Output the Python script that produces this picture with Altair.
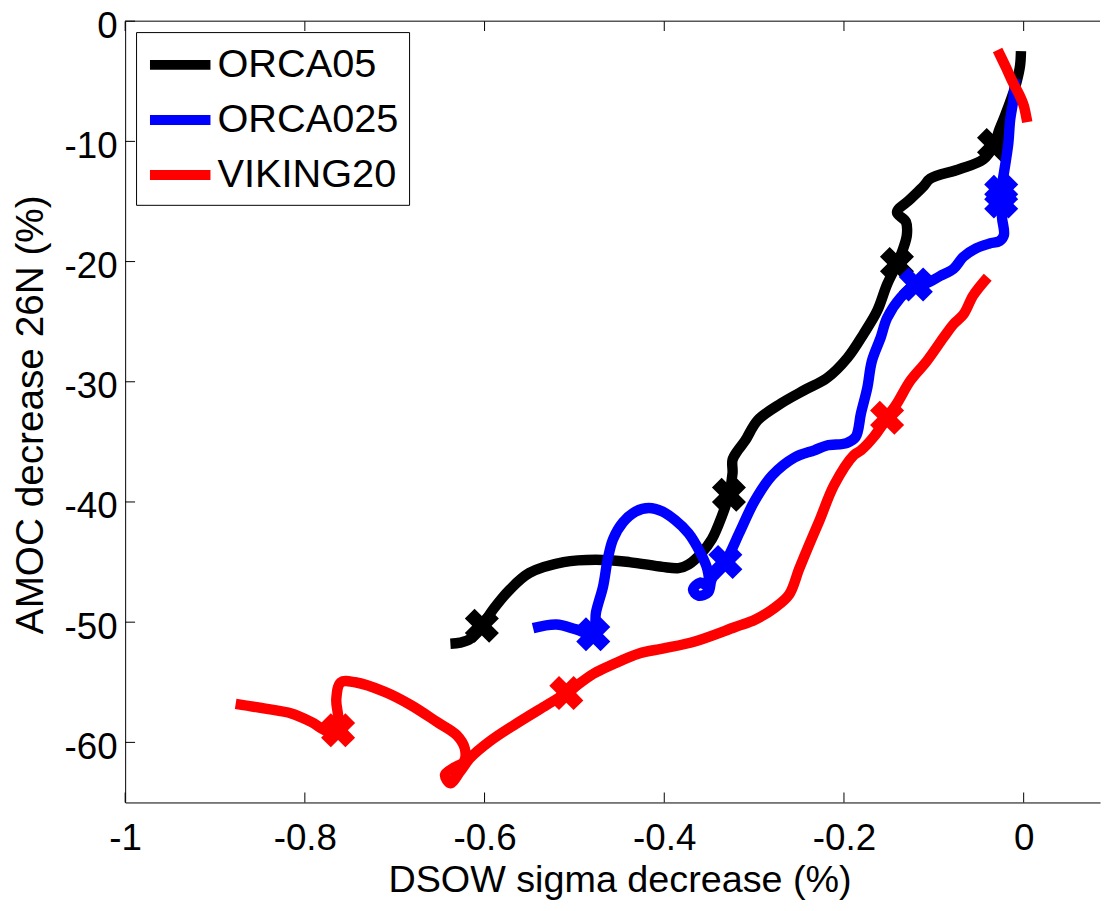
import altair as alt
import pandas as pd

FONT = "Liberation Sans"

series_names = ["ORCA05", "ORCA025", "VIKING20"]
series_colors = ["#000000", "#0000ff", "#ff0000"]

# ORCA05 (black)
orca05_x = [-0.003, -0.004, -0.008, -0.014, -0.021, -0.027, -0.033, -0.045, -0.071, -0.104,
            -0.111, -0.126, -0.141, -0.131, -0.130, -0.134, -0.141, -0.152, -0.163, -0.178,
            -0.196, -0.219, -0.244, -0.270, -0.296, -0.310, -0.318, -0.324, -0.324, -0.328,
            -0.336, -0.347, -0.358, -0.373, -0.384, -0.402, -0.439, -0.476, -0.512, -0.550,
            -0.572, -0.590, -0.603, -0.616, -0.627, -0.638]
orca05_y = [-2.5, -3.7, -5.1, -6.5, -7.9, -9.0, -10.3, -11.5, -12.3, -13.1,
            -13.7, -14.8, -15.9, -16.7, -17.8, -18.9, -20.2, -21.9, -24.1, -26.0,
            -28.0, -29.7, -30.7, -31.8, -33.2, -34.9, -35.7, -36.5, -37.6, -39.4,
            -41.2, -43.1, -44.2, -45.2, -45.5, -45.4, -45.0, -44.8, -45.0, -45.9,
            -47.3, -48.9, -50.3, -51.4, -51.7, -51.8]
orca05_mx = [-0.033, -0.141, -0.328, -0.603]
orca05_my = [-10.3, -20.2, -39.4, -50.3]

# ORCA025 (blue)
orca025_x = [-0.009, -0.010, -0.012, -0.015, -0.017, -0.020, -0.023, -0.025, -0.025, -0.024,
             -0.022, -0.027, -0.038, -0.053, -0.067, -0.078, -0.093, -0.108, -0.120, -0.137,
             -0.152, -0.159, -0.169, -0.174, -0.181, -0.187, -0.197, -0.219, -0.233, -0.255,
             -0.280, -0.300, -0.316, -0.332, -0.347, -0.351, -0.362, -0.368, -0.360, -0.351,
             -0.352, -0.360, -0.373, -0.388, -0.402, -0.417, -0.432, -0.446, -0.457, -0.463,
             -0.468, -0.476, -0.479, -0.498, -0.520, -0.546]
orca025_y = [-4.8, -5.4, -6.8, -8.2, -10.1, -11.7, -13.1, -14.2, -15.0, -16.4,
             -17.8, -18.3, -18.5, -18.9, -19.6, -20.6, -21.2, -21.8, -21.9, -23.0,
             -24.7, -26.3, -28.3, -30.5, -32.6, -34.6, -35.1, -35.3, -35.7, -36.3,
             -37.8, -40.0, -42.5, -45.0, -46.4, -47.5, -47.8, -47.3, -46.7, -47.0,
             -45.6, -44.2, -42.6, -41.5, -40.8, -40.5, -40.8, -41.7, -43.1, -44.8,
             -47.0, -49.2, -51.0, -50.6, -50.2, -50.5]
orca025_mx = [-0.025, -0.025, -0.120, -0.332, -0.479]
orca025_my = [-14.2, -15.0, -21.9, -45.0, -51.0]

# VIKING20 (red): short early segment, then the main curve
viking_top_x = [-0.029, -0.020, -0.012, -0.005, 0.000, 0.003, 0.004]
viking_top_y = [-2.4, -3.8, -5.1, -6.1, -7.0, -8.0, -8.4]
viking_x = [-0.040, -0.056, -0.067, -0.078, -0.089, -0.108, -0.126, -0.141, -0.152, -0.167,
            -0.181, -0.189, -0.211, -0.227, -0.239, -0.250, -0.261, -0.277, -0.299, -0.321,
            -0.366, -0.402, -0.428, -0.457, -0.479, -0.509, -0.531, -0.568, -0.594, -0.616,
            -0.627, -0.638, -0.644, -0.634, -0.623, -0.622, -0.631, -0.653, -0.682, -0.711,
            -0.744, -0.760, -0.765, -0.763, -0.763, -0.774, -0.793, -0.815, -0.844, -0.877]
viking_y = [-21.3, -22.8, -24.4, -25.2, -26.3, -28.3, -29.9, -31.8, -33.0, -34.6,
            -35.7, -36.1, -38.6, -41.5, -43.6, -45.6, -47.7, -48.8, -49.8, -50.4,
            -51.6, -52.2, -52.6, -53.5, -54.3, -55.9, -56.9, -58.6, -59.9, -61.3,
            -62.4, -63.4, -62.7, -62.1, -61.6, -60.5, -59.4, -58.3, -56.9, -55.8,
            -55.0, -55.0, -56.4, -57.8, -59.0, -59.1, -58.3, -57.6, -57.2, -56.8]
viking_mx = [-0.152, -0.509, -0.763]
viking_my = [-33.0, -55.9, -59.0]

x_ticks = [-1, -0.8, -0.6, -0.4, -0.2, 0]
y_ticks = [-60, -50, -40, -30, -20, -10, 0]
x_min, x_max = -1.0, 0.085
y_min, y_max = -65, 0


def line_df(name, xs, ys, seg):
    return pd.DataFrame({"series": name, "seg": seg, "idx": list(range(len(xs))), "x": xs, "y": ys})


lines = {
    "ORCA05": line_df("ORCA05", orca05_x, orca05_y, "a"),
    "ORCA025": line_df("ORCA025", orca025_x, orca025_y, "a"),
    "VIKING20": pd.concat([line_df("VIKING20", viking_top_x, viking_top_y, "a"),
                           line_df("VIKING20", viking_x, viking_y, "b")], ignore_index=True),
}
markers = {
    "ORCA05": pd.DataFrame({"x": orca05_mx, "y": orca05_my}),
    "ORCA025": pd.DataFrame({"x": orca025_mx, "y": orca025_my}),
    "VIKING20": pd.DataFrame({"x": viking_mx, "y": viking_my}),
}

label_expr = "datum.value == 0 ? '0' : (datum.value < 0 ? '-' : '') + format(abs(datum.value), '~g')"

X = alt.X("x:Q", scale=alt.Scale(domain=[x_min, x_max], nice=False, zero=False),
          axis=alt.Axis(values=x_ticks, labelExpr=label_expr, grid=False, ticks=False, tickSize=0,
                        labelFlush=False, labelOverlap=False,
                        labelPadding=18, labelFontSize=37, titleFontSize=38,
                        title="DSOW sigma decrease (%)", titleX=498, titleY=90,
                        titleBaseline="alphabetic", titleAlign="center"))
Y = alt.Y("y:Q", scale=alt.Scale(domain=[y_min, y_max], nice=False, zero=False),
          axis=alt.Axis(values=y_ticks, labelExpr=label_expr, grid=False, ticks=False, tickSize=0,
                        labelFlush=False, labelOverlap=False,
                        labelPadding=8, labelOffset=5, labelFontSize=37, titleFontSize=39,
                        title="AMOC decrease 26N (%)", titleX=-83, titleY=396, titleAngle=270,
                        titleBaseline="alphabetic", titleAlign="center"))

legend_symbol = "M-1.055,0H2.33"
color = alt.Color("series:N", scale=alt.Scale(domain=series_names, range=series_colors),
                  legend=alt.Legend(title=None, orient="none", legendX=11, legendY=11,
                                    padding=10, rowPadding=12.5, labelOffset=26,
                                    labelFontSize=40, labelFont=FONT, labelLimit=300,
                                    labelColor="#000000",
                                    strokeColor="#000000", fillColor="#ffffff",
                                    symbolType=legend_symbol, symbolSize=1296,
                                    symbolStrokeWidth=10, symbolOpacity=1))

bottom_ticks = pd.DataFrame({"x": x_ticks, "y": [y_min] * len(x_ticks)})
top_ticks = pd.DataFrame({"x": x_ticks, "y": [y_max] * len(x_ticks)})
left_ticks = pd.DataFrame({"x": [x_min] * len(y_ticks), "y": y_ticks})
top_border = pd.DataFrame({"x": [x_min], "x2": [x_max], "y": [y_max]})

layers = [
    alt.Chart(bottom_ticks).mark_tick(orient="vertical", size=10, thickness=1, color="#000000",
                                      yOffset=-5, opacity=1).encode(x=X, y=Y),
    alt.Chart(top_ticks).mark_tick(orient="vertical", size=10, thickness=1, color="#000000",
                                   yOffset=5, opacity=1).encode(x=X, y=Y),
    alt.Chart(left_ticks).mark_tick(orient="horizontal", size=10, thickness=1, color="#000000",
                                    xOffset=5, opacity=1).encode(x=X, y=Y),
    alt.Chart(top_border).mark_rule(color="#000000", strokeWidth=1).encode(x=X, x2="x2:Q", y=Y),
]

for name, col in zip(series_names, series_colors):
    layers.append(
        alt.Chart(lines[name]).mark_line(strokeWidth=10.5, strokeJoin="round",
                                         interpolate="catmull-rom").encode(
            x=X, y=Y, color=color, detail="seg:N", order="idx:Q")
    )
    layers.append(
        alt.Chart(markers[name]).mark_point(shape="cross", angle=45, filled=True, size=1200,
                                            opacity=1, strokeWidth=0, color=col).encode(x=X, y=Y)
    )

chart = alt.layer(*layers).properties(
    width=982, height=787,
    padding={"left": 118, "top": 10, "right": 5, "bottom": 98},
    autosize=alt.AutoSizeParams(type="none"),
).configure_view(stroke=None).configure_axis(
    domainColor="#000000", domainWidth=1, labelFont=FONT, titleFont=FONT,
    labelColor="#000000", titleColor="#000000", titleFontWeight="normal",
).configure_legend(symbolType=legend_symbol)

chart.save("out.html", embed_options={"renderer": "svg", "actions": False})
